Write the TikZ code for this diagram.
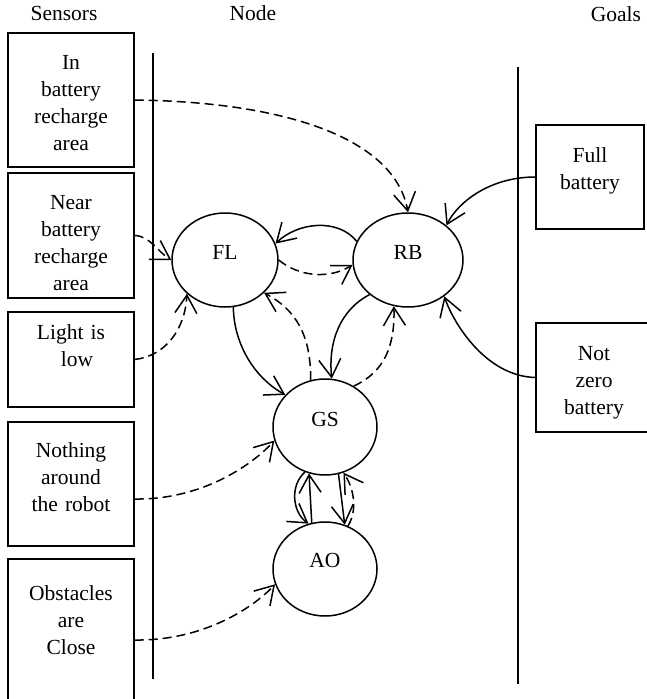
\documentclass[tikz,border=0pt]{standalone}
\usepackage{fontspec}
\setmainfont{Liberation Serif}
\usetikzlibrary{arrows.meta,shapes.geometric}
\begin{document}
\begin{tikzpicture}[x=1pt,y=-1pt,
  every node/.style={font=\fontsize{21.5}{27}\selectfont},
  lw/.style={line width=1.5pt},
  sbox/.style={draw,lw,rectangle,inner sep=0pt},
  ell/.style={draw,lw,ellipse,inner sep=0pt,minimum width=106pt,minimum height=94pt},
  btxt/.style={anchor=base,align=center,text width=124pt,inner sep=0pt},
  lbl/.style={anchor=base,inner sep=0pt},
  link/.style={lw,-{Straight Barb[length=18pt,width=22pt]}},
  dlink/.style={link,dash pattern=on 9pt off 5pt},
]
\useasboundingbox (0,0) rectangle (646,699);

% column headings
\node[lbl] (hS) at (64,20) {Sensors};
\node[lbl] (hN) at (253,20) {Node};
\node[lbl] (hG) at (616,21) {Goals};

% column separators
\draw[lw] (153,53) -- (153,679);
\draw[lw] (518,67) -- (518,684);

% sensor boxes
\node[sbox,minimum width=126pt,minimum height=134pt] (S1) at (71,100) {};
\node[sbox,minimum width=126pt,minimum height=125pt] (S2) at (71,235.5) {};
\node[sbox,minimum width=126pt,minimum height=95pt] (S3) at (71,359.5) {};
\node[sbox,minimum width=126pt,minimum height=124pt] (S4) at (71,484) {};
\node[sbox,minimum width=126pt,minimum height=143pt] (S5) at (71,630.5) {};
\node[btxt] (S1t) at (71,69) {In\\battery\\recharge\\area};
\node[btxt] (S2t) at (71,209) {Near\\battery\\recharge\\area};
\node[btxt] (S3t) at (71,339) {Light is\\\hspace*{12pt}low};
\node[btxt] (S4t) at (71,457) {Nothing\\around\\the robot};
\node[btxt] (S5t) at (71,600) {Obstacles\\are\\Close};

% goal boxes
\node[sbox,minimum width=108pt,minimum height=104pt] (G1) at (590,177) {};
\node[sbox,minimum width=118pt,minimum height=109pt] (G2) at (595,377.5) {};
\node[btxt,text width=100pt] (G1t) at (590,162) {Full\\battery};
\node[btxt,text width=100pt] (G2t) at (594,360) {Not\\zero\\battery};

% behaviour nodes
\node[ell,minimum width=106pt] (FL) at (225,260) {};
\node[ell,minimum width=110pt] (RB) at (408,260) {};
\node[ell,minimum width=104pt,minimum height=96pt] (GS) at (325,427) {};
\node[ell,minimum width=104pt] (AO) at (325,569) {};
\node[lbl] (FLt) at (225,259) {FL};
\node[lbl] (RBt) at (408,259) {RB};
\node[lbl] (GSt) at (325,426) {GS};
\node[lbl] (AOt) at (325,567) {AO};

% sensor inputs
\draw[dlink] (S1.east) .. controls (290,102) and (395,140) .. (RB.north);
\draw[dlink] (S2.east) .. controls (150,236) and (158,252) .. (FL.west);
\draw[dlink] (S3.east) .. controls (165,356) and (185,330) .. (FL.south west);
\draw[dlink] ([yshift=-15pt]S4.east) .. controls (205,500) and (255,462) .. (GS.195);
\draw[dlink] ([yshift=-9.5pt]S5.east) .. controls (205,641) and (255,606) .. (AO.197);

% goal inputs
\draw[link] (G1.west) .. controls (490,177) and (458,202) .. (RB.42);
\draw[link] (G2.west) .. controls (485,376) and (453,322) .. (RB.-45);

% links between behaviours
\draw[link] (RB.160) .. controls (338,218) and (298,222) .. (FL.18);
\draw[dlink] (FL.east) .. controls (298,276) and (328,280) .. (RB.185);
\draw[link] (FL.-80) .. controls (234,345) and (255,378) .. (GS.141);
\draw[dlink] (GS.107) .. controls (311,335) and (296,310) .. (FL.-40);
\draw[link] (RB.222) .. controls (340,310) and (328,342) .. (GS.82);
\draw[dlink] (GS.55) .. controls (385,372) and (395,345) .. (RB.-107);
\draw[link] (AO.106) -- (GS.-109);
\draw[link] (GS.-114) .. controls (290,485) and (292,512) .. (AO.110);
\draw[link] (GS.-74) -- (AO.66);
\draw[dlink] (AO.62) .. controls (357,512) and (355,490) .. (GS.-68);
\end{tikzpicture}
\end{document}
